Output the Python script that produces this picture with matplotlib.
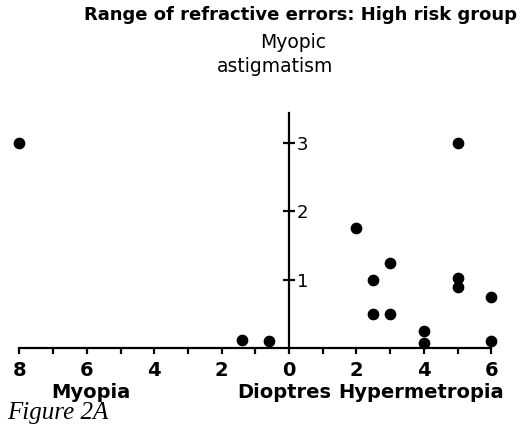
import matplotlib
matplotlib.use("Agg")
import matplotlib.pyplot as plt
from matplotlib.ticker import FuncFormatter, MultipleLocator

# refractive errors, dioptres (myopia stored as positive, drawn to the left)
myopia_dioptres = [8, 1.4, 0.6]
myopia_astig = [3.0, 0.12, 0.1]
hyper_dioptres = [2, 2.5, 3, 2.5, 3, 4, 4, 5, 5, 5, 6, 6]
hyper_astig = [1.75, 1.0, 1.25, 0.5, 0.5, 0.25, 0.08, 3.0, 1.03, 0.9, 0.75, 0.1]

x_ticks = [-8, -6, -4, -2, 0, 2, 4, 6]
y_ticks = [1, 2, 3]

plt.rcParams['font.family'] = ['DejaVu Sans']

fig = plt.figure(figsize=(5.24, 4.38), dpi=100)
ax = fig.add_axes([0, 0.178, 1, 0.5937])
ax.set_xlim(-8.576, 6.973)
ax.set_ylim(-0.1757, 3.631)

xs = [-d for d in myopia_dioptres] + hyper_dioptres
ys = myopia_astig + hyper_astig
ax.scatter(xs, ys, s=55, color='black', zorder=3, clip_on=False)

for side in ['left', 'top']:
    ax.spines[side].set_visible(False)
ax.spines['bottom'].set_position(('data', 0))
ax.spines['bottom'].set_bounds(-8, 6)
ax.spines['right'].set_position(('data', 0))
ax.spines['right'].set_bounds(0, 3.44)
for side in ['bottom', 'right']:
    ax.spines[side].set_linewidth(1.6)

ax.set_xticks(x_ticks)
ax.xaxis.set_minor_locator(MultipleLocator(1))
ax.xaxis.set_major_formatter(FuncFormatter(lambda v, p: f"{abs(int(v))}"))
ax.tick_params(axis='x', which='both', direction='out', length=4, width=1.6,
               labelsize=14, pad=5)
for lbl in ax.get_xticklabels():
    lbl.set_fontweight('bold')

ax.yaxis.set_ticks_position('right')
ax.set_yticks(y_ticks)
ax.tick_params(axis='y', direction='inout', length=9, width=1.6, labelsize=13, pad=1)

fig.text(300 / 524, 1 - 15 / 438, "Range of refractive errors: High risk group",
         ha='center', va='center', fontsize=13, fontweight='bold')
fig.text(293 / 524, 1 - 43 / 438, "Myopic", ha='center', va='center', fontsize=13.5)
fig.text(275 / 524, 1 - 67 / 438, "astigmatism", ha='center', va='center', fontsize=13.5)
fig.text(91 / 524, 1 - 392 / 438, "Myopia", ha='center', va='center',
         fontsize=14, fontweight='bold')
fig.text(284 / 524, 1 - 392 / 438, "Dioptres", ha='center', va='center',
         fontsize=14, fontweight='bold')
fig.text(421 / 524, 1 - 392 / 438, "Hypermetropia", ha='center', va='center',
         fontsize=14, fontweight='bold')
fig.text(7 / 524, 1 - 413 / 438, "Figure 2A", ha='left', va='center',
         fontsize=18, style='italic', family='Liberation Serif')

fig.savefig("out.png", dpi=100)
